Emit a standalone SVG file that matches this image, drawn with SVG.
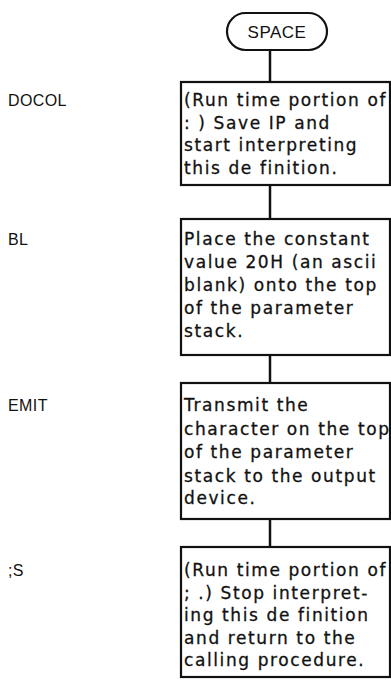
<svg xmlns="http://www.w3.org/2000/svg" width="391" height="681" viewBox="0 0 391 681">
<style>
.box{fill:#fff;stroke:#111;stroke-width:2.2}
.conn{stroke:#111;stroke-width:2.5;fill:none}
.t{font-family:"DejaVu Sans",sans-serif;font-size:17px;letter-spacing:1.6px;fill:#111;stroke:#111;stroke-width:0.3}
.lbl{font-family:"Liberation Sans",Arial,sans-serif;font-size:16px;letter-spacing:0.4px;fill:#111}
.term{font-family:"Liberation Sans",Arial,sans-serif;font-size:17px;letter-spacing:0.5px;fill:#111;text-anchor:middle}
</style>
<rect width="391" height="681" fill="#fff"/>
<g id="connectors">
<line class="conn" x1="270" y1="50" x2="270" y2="82"/>
<line class="conn" x1="270" y1="185" x2="270" y2="219"/>
<line class="conn" x1="270" y1="355" x2="270" y2="383"/>
<line class="conn" x1="270" y1="519" x2="270" y2="547"/>
</g>
<g id="space">
<rect class="box" x="227" y="13" width="100" height="37" rx="18.5"/>
<text class="term" x="277" y="38">SPACE</text>
</g>
<g id="docol">
<text class="lbl" x="8" y="106">DOCOL</text>
<rect class="box" x="181" y="82" width="209" height="103"/>
<text class="t" x="184" y="106">(Run time portion of</text>
<text class="t" x="184" y="129">: ) Save IP and</text>
<text class="t" x="184" y="151">start interpreting</text>
<text class="t" x="184" y="174">this de finition.</text>
</g>
<g id="bl">
<text class="lbl" x="8" y="245">BL</text>
<rect class="box" x="181" y="219" width="209" height="136"/>
<text class="t" x="184" y="245">Place the constant</text>
<text class="t" x="184" y="268">value 20H (an ascii</text>
<text class="t" x="184" y="291">blank) onto the top</text>
<text class="t" x="184" y="314">of the parameter</text>
<text class="t" x="184" y="337">stack.</text>
</g>
<g id="emit">
<text class="lbl" x="8" y="411">EMIT</text>
<rect class="box" x="181" y="383" width="209" height="136"/>
<text class="t" x="184" y="411">Transmit the</text>
<text class="t" x="184" y="435">character on the top</text>
<text class="t" x="184" y="458">of the parameter</text>
<text class="t" x="184" y="482">stack to the output</text>
<text class="t" x="184" y="504">device.</text>
</g>
<g id="semis">
<text class="lbl" x="8" y="576">;S</text>
<rect class="box" x="181" y="547" width="209" height="130"/>
<text class="t" x="184" y="576">(Run time portion of</text>
<text class="t" x="184" y="599">; .) Stop interpret-</text>
<text class="t" x="184" y="621">ing this de finition</text>
<text class="t" x="184" y="644">and return to the</text>
<text class="t" x="184" y="666">calling procedure.</text>
</g>
</svg>
